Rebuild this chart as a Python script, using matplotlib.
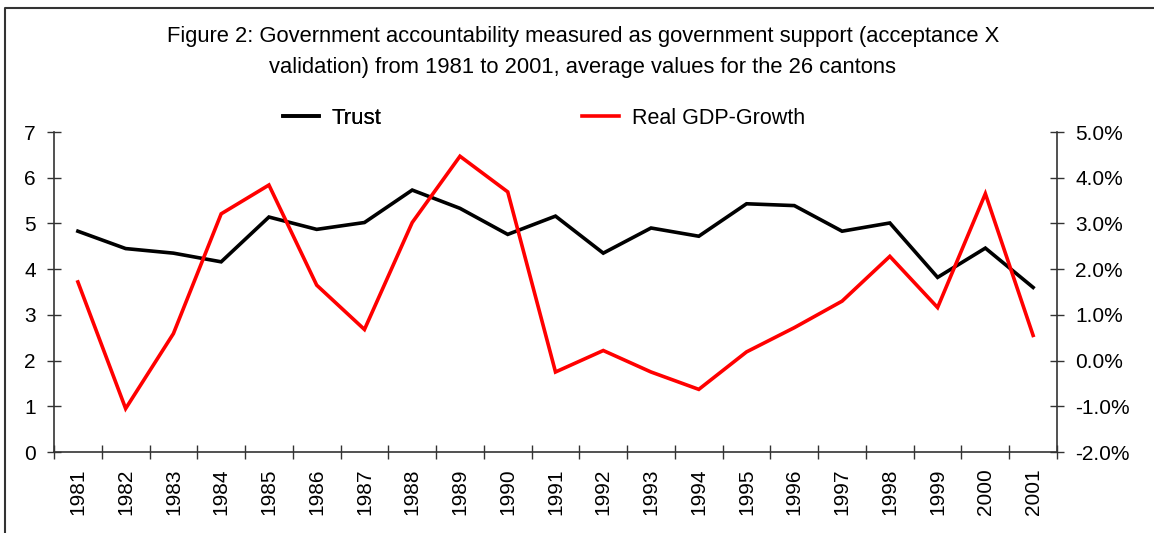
import matplotlib
matplotlib.use("Agg")
import matplotlib.pyplot as plt
from matplotlib.lines import Line2D
from matplotlib.ticker import FuncFormatter, FixedLocator, NullFormatter

plt.rcParams['font.family'] = ['Liberation Sans', 'DejaVu Sans']

years = ['1981', '1982', '1983', '1984', '1985', '1986', '1987', '1988', '1989', '1990',
         '1991', '1992', '1993', '1994', '1995', '1996', '1997', '1998', '1999', '2000', '2001']
trust = [4.83, 4.45, 4.35, 4.16, 5.14, 4.87, 5.02, 5.73, 5.33, 4.76,
         5.16, 4.35, 4.90, 4.72, 5.43, 5.39, 4.83, 5.01, 3.82, 4.46, 3.60]
gdp_growth = [1.72, -1.05, 0.59, 3.21, 3.84, 1.65, 0.68, 3.02, 4.47, 3.69,
              -0.25, 0.22, -0.25, -0.63, 0.19, 0.72, 1.30, 2.28, 1.16, 3.65, 0.55]
title = ("Figure 2: Government accountability measured as government support (acceptance X\n"
         "validation) from 1981 to 2001, average values for the 26 cantons")

W, H = 1154, 533
fig = plt.figure(figsize=(W / 100, H / 100), dpi=100)
ax = fig.add_axes([54 / W, 1 - 452 / H, (1057 - 54) / W, (452 - 132) / H])
ax2 = ax.twinx()

n = len(years)
x = list(range(n))
ax.plot(x, trust, color='black', lw=2.6, solid_joinstyle='miter')
ax2.plot(x, gdp_growth, color='#ff0000', lw=2.6, solid_joinstyle='miter')

ax.set_xlim(-0.5, n - 0.5)
ax.set_ylim(0, 7)
ax2.set_ylim(-2, 5)

ax.set_yticks(range(0, 8))
ax2.set_yticks(range(-2, 6))
ax2.yaxis.set_major_formatter(FuncFormatter(lambda v, p: f"{v:.1f}%"))

# x ticks at category boundaries, labels at centers
ax.xaxis.set_major_locator(FixedLocator([i - 0.5 for i in range(n + 1)]))
ax.xaxis.set_major_formatter(NullFormatter())
ax.xaxis.set_minor_locator(FixedLocator(x))
ax.set_xticklabels(years, minor=True, rotation=90, fontsize=15)
ax.tick_params(axis='x', which='minor', length=0, pad=12)
ax.tick_params(axis='x', which='major', direction='inout', length=10, width=1, color='#333333')

for spine in ['top', 'right']:
    ax.spines[spine].set_visible(False)
for spine in ['top', 'left']:
    ax2.spines[spine].set_visible(False)
ax2.spines['bottom'].set_visible(False)
for a in (ax, ax2):
    for s in a.spines.values():
        s.set_color('#333333')
        s.set_linewidth(1.2)

ax.tick_params(axis='y', direction='inout', length=10, width=1, color='#333333', labelsize=15, pad=8)
ax2.tick_params(axis='y', direction='inout', length=10, width=1, color='#333333', labelsize=15, pad=8)

fig.text(0.505, 1 - 52 / H, title, ha='center', va='center', fontsize=15.8,
         linespacing=1.6)

h_trust = Line2D([], [], color='black', lw=2.6)
h_gdp = Line2D([], [], color='#ff0000', lw=2.6)
leg1 = fig.legend([h_trust], ['Trust'], loc='center left',
                  bbox_to_anchor=(283 / W, 1 - 118 / H), frameon=False, fontsize=16,
                  handlelength=1.6, handletextpad=0.6, borderpad=0, borderaxespad=0)
fig.legend([h_gdp], ['Real GDP-Growth'], loc='center left',
           bbox_to_anchor=(582 / W, 1 - 118 / H), frameon=False, fontsize=15.5,
           handlelength=1.7, handletextpad=0.6, borderpad=0, borderaxespad=0)
fig.add_artist(leg1)

# outer border (top and left only)
fig.add_artist(Line2D([5 / W, 5 / W, 1.0], [0.0, 1 - 8 / H, 1 - 8 / H],
                      transform=fig.transFigure, color='#333333', lw=1.5))

fig.savefig('out.png', dpi=100)
